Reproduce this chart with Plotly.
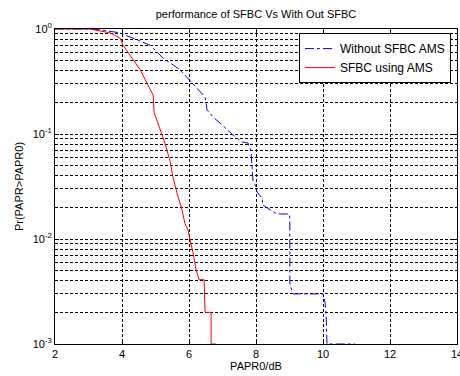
import plotly.graph_objects as go

# Data
red_name = "SFBC using AMS"
red_x = [2, 3.04, 3.64, 3.94, 4.03, 4.24, 4.54, 4.78, 4.93, 4.96, 5.13, 5.28, 5.43, 5.52,
         5.64, 5.79, 5.88, 5.97, 6.03, 6.12, 6.21, 6.30, 6.45, 6.48, 6.66, 6.66, 6.80]
red_y = [1, 1, 0.92, 0.82, 0.70, 0.565, 0.41, 0.29, 0.235, 0.16, 0.115, 0.082, 0.056, 0.039,
         0.0275, 0.019, 0.014, 0.0122, 0.0098, 0.0074, 0.0051, 0.0041, 0.0041, 0.002, 0.002,
         0.001, 0.001]

blue_name = "Without SFBC AMS"
blue_x = [2, 3.04, 3.34, 3.94, 4.84, 5.22, 5.73, 5.97, 6.24, 6.48, 6.54, 6.72, 6.99, 7.22,
          7.31, 7.58, 7.76, 7.85, 7.88, 7.91, 7.97, 8.03, 8.18, 8.21, 8.42, 8.63, 8.99, 9.01,
          9.01, 9.10, 10.0, 10.06, 10.09, 10.12, 10.96]
blue_y = [1, 1, 0.98, 0.92, 0.70, 0.53, 0.41, 0.34, 0.27, 0.225, 0.17, 0.145, 0.122, 0.104,
          0.098, 0.084, 0.082, 0.070, 0.048, 0.036, 0.033, 0.028, 0.0245, 0.021, 0.019, 0.0173,
          0.0173, 0.0159, 0.0038, 0.003, 0.003, 0.0025, 0.002, 0.001, 0.001]

x_ticks = [2, 4, 6, 8, 10, 12, 14]
y_exps = [-3, -2, -1, 0]

y_major = [10 ** e for e in y_exps]
y_major_text = [f"10<sup>{e}</sup>" for e in y_exps]
y_minor = [k * 10 ** e for e in y_exps[:-1] for k in range(2, 10)]

font = "Liberation Sans, Arial, sans-serif"
fig = go.Figure()
fig.add_trace(go.Scatter(x=blue_x, y=blue_y, mode="lines", name=blue_name,
                         line=dict(color="#0000ff", width=1, dash="dashdot")))
fig.add_trace(go.Scatter(x=red_x, y=red_y, mode="lines", name=red_name,
                         line=dict(color="#ff0000", width=1)))

grid_dash = "3px,2px"
fig.update_layout(
    width=460, height=376,
    margin=dict(l=55, r=3, t=29, b=32, autoexpand=False),
    paper_bgcolor="white", plot_bgcolor="white",
    font=dict(family=font, size=11, color="black"),
    title=dict(text="performance of SFBC Vs With Out SFBC", x=(55 + 457) / 2 / 460,
               xanchor="center", y=1 - 14 / 376, yanchor="middle",
               font=dict(size=11, family=font)),
    showlegend=True,
    legend=dict(x=0.985, y=0.987, xanchor="right", yanchor="top",
                bgcolor="white", bordercolor="black", borderwidth=1,
                font=dict(size=12, family=font), tracegroupgap=0),
)
fig.update_xaxes(range=[2, 14], tickvals=x_ticks, ticktext=[str(v) for v in x_ticks],
                 showgrid=True, gridcolor="black", griddash=grid_dash, gridwidth=1,
                 showline=True, linecolor="black", linewidth=1, mirror="ticks",
                 ticks="inside", ticklen=4, tickcolor="black", zeroline=False,
                 automargin=False, ticklabeloverflow="allow",
                 title=dict(text="PAPR0/dB", standoff=2, font=dict(size=11)),
                 tickfont=dict(size=11))
fig.update_yaxes(type="log", range=[-3, 0], tickvals=y_major, ticktext=y_major_text,
                 showgrid=True, gridcolor="black", griddash=grid_dash, gridwidth=1,
                 showline=True, linecolor="black", linewidth=1, mirror="ticks",
                 ticks="inside", ticklen=4, tickcolor="black", zeroline=False,
                 minor=dict(tickmode="array", tickvals=y_minor, showgrid=True,
                            gridcolor="black", griddash=grid_dash, gridwidth=1,
                            ticks="inside", ticklen=2, tickcolor="black"),
                 automargin=False, ticklabeloverflow="allow",
                 title=dict(text="Pr(PAPR>PAPR0)", standoff=6, font=dict(size=11)),
                 tickfont=dict(size=11))

fig.write_html("out.html", config={"displayModeBar": False},
               post_script="document.body.style.margin='0';document.body.style.overflow='hidden';")
